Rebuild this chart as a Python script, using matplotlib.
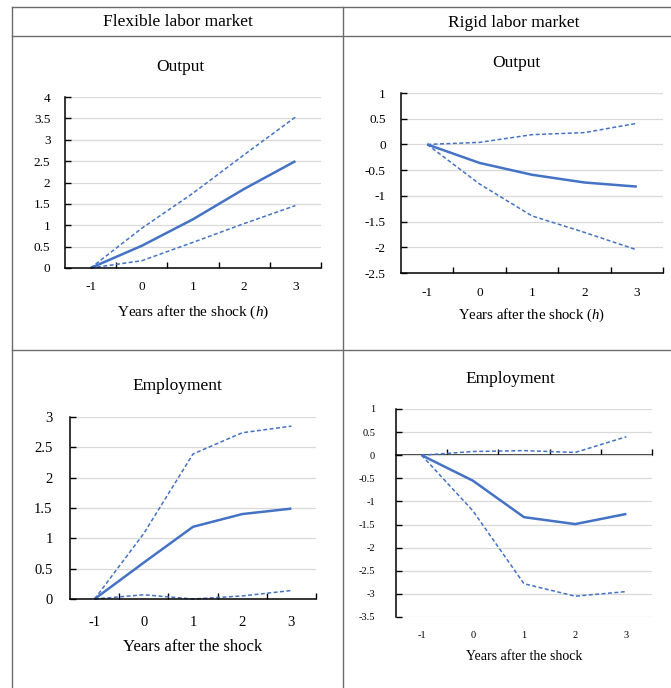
import matplotlib
matplotlib.use("Agg")
import matplotlib.pyplot as plt
from matplotlib.lines import Line2D
import numpy as np

plt.rcParams['font.family'] = ['Liberation Serif', 'DejaVu Serif']
plt.rcParams['mathtext.fontset'] = 'custom'
plt.rcParams['mathtext.rm'] = 'Liberation Serif'
plt.rcParams['mathtext.it'] = 'Liberation Serif:italic'

# ---------------- data ----------------
years = [-1, 0, 1, 2, 3]
year_labels = ["-1", "0", "1", "2", "3"]

flex_output = [0.0, 0.52, 1.14, 1.85, 2.50]
flex_output_hi = [0.0, 0.93, 1.75, 2.65, 3.53]
flex_output_lo = [0.0, 0.17, 0.60, 1.04, 1.46]

rigid_output = [0.0, -0.36, -0.59, -0.74, -0.82]
rigid_output_hi = [0.0, 0.04, 0.19, 0.23, 0.41]
rigid_output_lo = [0.0, -0.77, -1.39, -1.71, -2.05]

flex_emp = [0.0, 0.60, 1.19, 1.40, 1.49]
flex_emp_hi = [0.0, 1.08, 2.39, 2.74, 2.85]
flex_emp_lo = [0.0, 0.07, 0.0, 0.05, 0.14]

rigid_emp = [0.0, -0.55, -1.34, -1.49, -1.27]
rigid_emp_hi = [0.0, 0.08, 0.10, 0.06, 0.40]
rigid_emp_lo = [0.0, -1.20, -2.78, -3.05, -2.95]

col_headers = ["Flexible labor market", "Rigid labor market"]

W, H = 671, 688
fig = plt.figure(figsize=(W / 100, H / 100), dpi=100)

BLUE = "#4472C4"
GRID = "#d9d9d9"


def fx(x):
    return x / W


def fy(y):
    return 1 - y / H


def make_ax(x0, x1, ytop, ybot):
    return fig.add_axes([fx(x0), fy(ybot), fx(x1) - fx(x0), fy(ytop) - fy(ybot)])


def style(ax, ylo, yhi, yticks, ylabels, tick_fs, ypad, xpad, zero_axis=False):
    ax.set_xlim(-1.5, 3.5)
    ax.set_ylim(ylo, yhi)
    ax.set_yticks(yticks)
    ax.set_yticklabels(ylabels)
    ax.set_xticks(years)
    ax.set_xticklabels(year_labels)
    ax.set_xticks(np.arange(-0.5, 3.6, 1.0), minor=True)
    ax.yaxis.grid(True, color=GRID, lw=0.9)
    ax.set_axisbelow(True)
    for s in ["top", "right"]:
        ax.spines[s].set_visible(False)
    ax.spines["left"].set_color("black")
    ax.spines["left"].set_linewidth(1.1)
    ax.tick_params(axis="y", which="major", direction="in", length=4, width=1.0,
                   labelsize=tick_fs, pad=ypad)
    ax.tick_params(axis="x", which="major", length=0, labelsize=tick_fs, pad=xpad)
    if zero_axis:
        ax.spines["bottom"].set_visible(False)
        ax.tick_params(axis="x", which="minor", length=0)
        sec = ax.secondary_xaxis(0, transform=ax.transData)
        sec.set_xticks(np.arange(-0.5, 3.6, 1.0))
        sec.set_xticklabels([])
        sec.tick_params(axis="x", direction="in", length=4, width=1.0)
        sec.spines["bottom"].set_color("black")
        sec.spines["bottom"].set_linewidth(1.1)
    else:
        ax.spines["bottom"].set_color("black")
        ax.spines["bottom"].set_linewidth(1.1)
        ax.tick_params(axis="x", which="minor", direction="in", length=4, width=1.0)


def draw(ax, mid, hi, lo):
    ax.plot(years, hi, color=BLUE, lw=1.1, ls=(0, (2.6, 1.6)), clip_on=False)
    ax.plot(years, lo, color=BLUE, lw=1.1, ls=(0, (2.6, 1.6)), clip_on=False)
    ax.plot(years, mid, color=BLUE, lw=1.8, clip_on=False, solid_capstyle="butt")


def lbl(v):
    return f"{v:g}"


# Panel 1: flexible output
ax1 = make_ax(65, 321, 97, 268)
yt = [0, 0.5, 1, 1.5, 2, 2.5, 3, 3.5, 4]
style(ax1, 0, 4, yt, [lbl(v) for v in yt], 9.5, 10.5, 9.5)
draw(ax1, flex_output, flex_output_hi, flex_output_lo)

# Panel 2: rigid output
ax2 = make_ax(401, 663, 93, 273)
yt = [-2.5, -2, -1.5, -1, -0.5, 0, 0.5, 1]
style(ax2, -2.5, 1, yt, [lbl(v) for v in yt], 9.5, 11, 10)
draw(ax2, rigid_output, rigid_output_hi, rigid_output_lo)

# Panel 3: flexible employment
ax3 = make_ax(70, 316, 417, 599)
yt = [0, 0.5, 1, 1.5, 2, 2.5, 3]
style(ax3, 0, 3, yt, [lbl(v) for v in yt], 10.5, 12.5, 12.5)
draw(ax3, flex_emp, flex_emp_hi, flex_emp_lo)

# Panel 4: rigid employment
ax4 = make_ax(396, 652, 409, 617)
yt = [-3.5, -3, -2.5, -2, -1.5, -1, -0.5, 0, 0.5, 1]
style(ax4, -3.5, 1, yt, [lbl(v) for v in yt], 7.5, 15, 10, zero_axis=True)
draw(ax4, rigid_emp, rigid_emp_hi, rigid_emp_lo)


# Titles and axis labels (placed in figure pixel coords)
def ftext(x, y, s, size, **kw):
    fig.text(fx(x), fy(y), s, size=size, ha="center", va="center", **kw)


ftext(178, 22, col_headers[0], 12.5)
ftext(514, 23, col_headers[1], 12.5)
ftext(180, 67, "Output", 12.5)
ftext(516, 63, "Output", 12.5)
ftext(177, 386, "Employment", 12.5)
ftext(510, 379, "Employment", 12.5)
ftext(193, 312, "Years after the shock ($\\mathit{h}$)", 11)
ftext(532, 315, "Years after the shock ($\\mathit{h}$)", 10.6)
ftext(193, 647, "Years after the shock", 12)
ftext(524, 656, "Years after the shock", 10)

# Table borders
BC = "#6b6b6b"


def fline(xs, ys):
    fig.add_artist(Line2D([fx(x) for x in xs], [fy(y) for y in ys], color=BC, lw=1.0))


fline([11.5, 671], [7, 7])
fline([11.5, 671], [36, 36])
fline([11.5, 671], [349.5, 349.5])
fline([11.5, 11.5], [7, 688])
fline([342.5, 342.5], [7, 688])

fig.savefig("out.png", dpi=100)
